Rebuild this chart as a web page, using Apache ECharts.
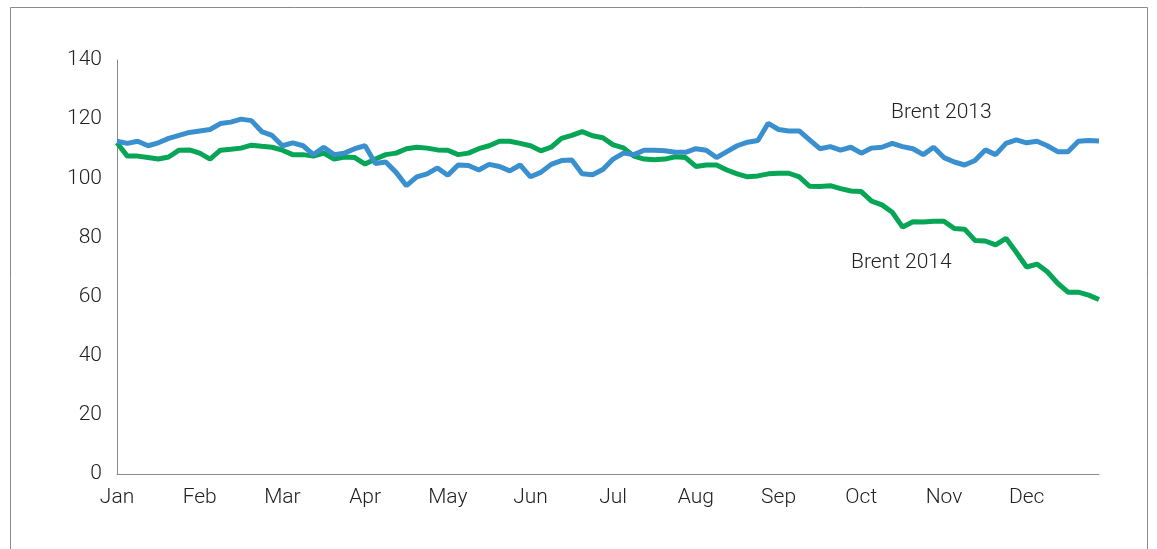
<!DOCTYPE html>
<html>
<head>
<meta charset="utf-8">
<script src="https://cdn.jsdelivr.net/npm/echarts@6/dist/echarts.min.js"></script>
<style>
html,body{margin:0;padding:0;background:#fff;}
#c{width:1157px;height:549px;}
</style>
</head>
<body>
<div id="c"></div>
<script>
// Month tick labels (8 samples per month)
const months = ['Jan','Feb','Mar','Apr','May','Jun','Jul','Aug','Sep','Oct','Nov','Dec'];
const perMonth = 8;

// Brent 2013 (USD/bbl), sampled ~8 times per month
const brent2013 = [
  112.5,111.8,112.5,111,112,113.5,114.5,115.5,
  116,116.5,118.5,119,120,119.5,115.8,114.5,
  111,112,111,108,110.5,108,108.5,110,
  111,105,105.5,102,97.5,100.5,101.5,103.5,
  101,104.5,104.3,102.8,104.7,104,102.5,104.5,
  100.5,102,104.7,106,106.2,101.5,101.2,103,
  106.5,108.5,108,109.5,109.5,109.3,108.8,108.8,
  110,109.5,107,109,111,112.2,112.8,118.6,
  116.5,116,116,113,110,110.7,109.5,110.5,
  108.5,110.2,110.5,111.8,110.7,110,108,110.5,
  107,105.5,104.5,106,109.6,108,111.8,113,
  112,112.5,111,109,109,112.5,112.8,112.6
];

// Brent 2014 (USD/bbl)
const brent2014 = [
  112,107.5,107.5,107,106.5,107.2,109.5,109.6,
  108.5,106.5,109.5,109.8,110.2,111.2,110.8,110.5,
  109.5,108,108,107.5,108.5,106.5,107.2,107,
  104.8,106.5,108,108.5,110,110.5,110.2,109.6,
  109.5,108,108.5,110,111,112.5,112.5,111.8,
  111,109.3,110.5,113.5,114.5,115.8,114.4,113.7,
  111.3,110.3,107.5,106.5,106.3,106.5,107.3,107,
  104,104.5,104.5,102.8,101.5,100.5,100.8,101.5,
  101.7,101.7,100.5,97.3,97.2,97.5,96.5,95.7,
  95.5,92.3,91,88.5,83.5,85.3,85.2,85.5,
  85.5,83,82.8,79,78.8,77.5,79.7,75,
  70,71,68.4,64.5,61.5,61.5,60.5,59
];

const yTicks = [0,20,40,60,80,100,120,140];

const categories = brent2013.map((_, i) => i);

const chart = echarts.init(document.getElementById('c'), null, {renderer:'canvas'});
const font = 'Roboto, "Liberation Sans", Arial, sans-serif';

chart.setOption({
  animation:false,
  backgroundColor:'#fff',
  grid:{left:117, right:58, top:60, bottom:75, containLabel:false},
  xAxis:{
    type:'category',
    data:categories,
    boundaryGap:false,
    axisLine:{lineStyle:{color:'#8a8a8a', width:1}},
    axisTick:{show:false},
    axisLabel:{
      interval: (idx) => idx % perMonth === 0,
      formatter: (v) => months[Math.floor(Number(v)/perMonth)],
      color:'#222', fontSize:21, fontWeight:300, fontFamily:font, margin:13
    },
    splitLine:{show:false}
  },
  yAxis:{
    type:'value',
    min:yTicks[0], max:yTicks[yTicks.length-1], interval:20,
    axisLine:{show:true, lineStyle:{color:'#8a8a8a', width:1}},
    axisTick:{show:false},
    axisLabel:{color:'#222', fontSize:21, fontWeight:300, fontFamily:font, margin:15},
    splitLine:{show:false}
  },
  series:[
    {
      name:'Brent 2014', type:'line', data:brent2014, showSymbol:false, symbol:'none',
      lineStyle:{color:'#07a556', width:5}, z:2
    },
    {
      name:'Brent 2013', type:'line', data:brent2013, showSymbol:false, symbol:'none',
      lineStyle:{color:'#3a90cf', width:5}, z:3
    }
  ],
  graphic:[
    {type:'rect', shape:{x:10.5, y:7.5, width:1137, height:600}, style:{fill:'none', stroke:'#8a8a8a', lineWidth:1}, silent:true},
    {type:'text', left:891, top:102, style:{text:'Brent 2013', fill:'#222', font:'300 21px ' + font}},
    {type:'text', left:851, top:252, style:{text:'Brent 2014', fill:'#222', font:'300 21px ' + font}}
  ]
});
</script>
</body>
</html>
